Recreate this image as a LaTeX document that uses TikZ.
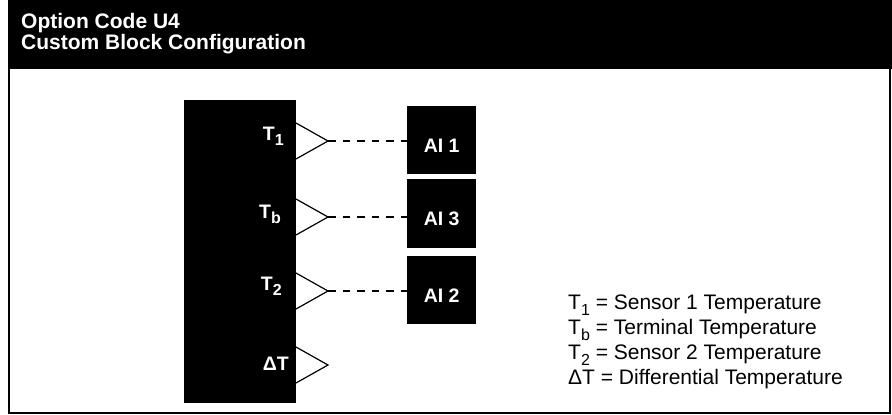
\documentclass[tikz,border=0pt]{standalone}
\usepackage{fontspec}
\setmainfont{Liberation Sans}
\usetikzlibrary{positioning}
\newcommand{\tsub}[2][15]{\raisebox{-0.3em}{\fontsize{#1}{#1}\selectfont #2}}

\begin{document}
\begin{tikzpicture}[x=1pt, y=-1pt,
    blockfill/.style={fill=black, draw=none, inner sep=0pt},
    aibox/.style={fill=black, text=white, inner sep=0pt, minimum width=69pt,
      text height=24pt, text depth=0pt, font=\bfseries\fontsize{19.5}{19.5}\selectfont},
    inlabel/.style={text=white, inner sep=0pt, anchor=base east,
      font=\bfseries\fontsize{19.5}{19.5}\selectfont},
    port/.style={draw=black, line width=1.2pt},
    link/.style={draw=black, line width=1.2pt, dash pattern=on 7.5pt off 7pt},
    legend/.style={anchor=base west, inner sep=0pt, font=\fontsize{21}{25}\selectfont},
    titletext/.style={anchor=base west, inner sep=0pt, text=white,
      font=\bfseries\fontsize{21}{21}\selectfont}]
  \useasboundingbox (0,0) rectangle (892,415);
  % header band and frame
  \fill[black] (8,0) rectangle (892,69);
  \draw[line width=2pt] (9,69) -- (9,413) -- (890,413) -- (890,69);
  \node[titletext] (title1) at (21,28) {Option Code U4};
  \node[titletext] (title2) at (21,49) {Custom Block Configuration};

  % sensor block with its outputs
  \node[blockfill, minimum width=112pt, minimum height=303pt, anchor=north west] (blk) at (184,100) {};
  \foreach \y/\b/\x/\lbl/\nm in {141/140/284/T\tsub[16]{1}/t1, 217/218/281/T\tsub[16]{b}/tb,
      291/290/282/T\tsub[16]{2}/t2, 365/370/289/ΔT/dt} {
    \draw[port] (296,\y-18) -- (328,\y) -- (296,\y+18);
    \coordinate (\nm) at (328,\y);
    \node[inlabel] (\nm lbl) at (\x,\b) {\lbl};
  }

  % analog input blocks
  \node[aibox, minimum height=68pt, anchor=north west] (ai1) at (407,106) {AI 1};
  \node[aibox, minimum height=69pt, anchor=north west] (ai3) at (407,179) {AI 3};
  \node[aibox, minimum height=68pt, anchor=north west] (ai2) at (407,256) {AI 2};
  \draw[link] (t1) -- (t1 -| ai1.west);
  \draw[link] (tb) -- (tb -| ai3.west);
  \draw[link] (t2) -- (t2 -| ai2.west);

  % legend
  \node[legend] (leg1) at (568,309) {T\tsub[16]{1} = Sensor 1 Temperature};
  \node[legend] (leg2) at (568,334) {T\tsub[16]{b} = Terminal Temperature};
  \node[legend] (leg3) at (568,359) {T\tsub[16]{2} = Sensor 2 Temperature};
  \node[legend] (leg4) at (568,384) {ΔT = Differential Temperature};
\end{tikzpicture}
\end{document}
